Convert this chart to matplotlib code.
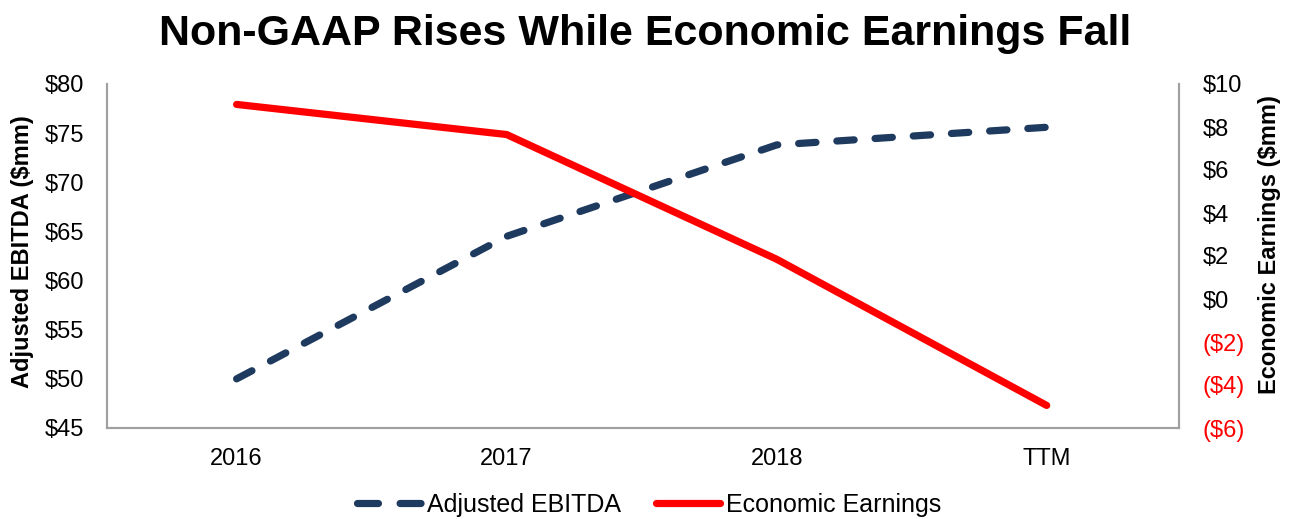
import matplotlib
matplotlib.use("Agg")
import matplotlib.pyplot as plt
from matplotlib.ticker import FuncFormatter
from matplotlib.lines import Line2D

plt.rcParams['font.family'] = ['Liberation Sans', 'DejaVu Sans']

categories = ["2016", "2017", "2018", "TTM"]
adjusted_ebitda = [50.0, 64.5, 73.8, 75.6]
economic_earnings = [9.05, 7.65, 1.85, -4.95]

left_ticks = [45, 50, 55, 60, 65, 70, 75, 80]
right_ticks = [-6, -4, -2, 0, 2, 4, 6, 8, 10]

navy = "#1f3a5f"
red = "#ff0000"

fig = plt.figure(figsize=(12.91, 5.19), dpi=100)
ax = fig.add_axes([107/1291, 1-428/519, (1179-107)/1291, (428-84)/519])
ax2 = ax.twinx()

x = list(range(len(categories)))
l1, = ax.plot(x, adjusted_ebitda, color=navy, lw=5.2, linestyle=(0, (2.4, 2.9)),
              dash_capstyle='round', solid_capstyle='round', label="Adjusted EBITDA", zorder=3)
l2, = ax2.plot(x, economic_earnings, color=red, lw=5.2, solid_capstyle='round',
               label="Economic Earnings", zorder=3)

ax.set_xlim(-0.48, 3.49)
ax.set_ylim(45, 80)
ax2.set_ylim(-6, 10)
ax.set_xticks(x)
ax.set_xticklabels(categories)
ax.set_yticks(left_ticks)
ax2.set_yticks(right_ticks)
ax.yaxis.set_major_formatter(FuncFormatter(lambda v, p: f"${v:.0f}"))
ax2.yaxis.set_major_formatter(FuncFormatter(lambda v, p: f"(${abs(v):.0f})" if v < 0 else f"${v:.0f}"))

for a in (ax, ax2):
    a.tick_params(axis='both', length=0, labelsize=17)
    a.spines['top'].set_visible(False)
    for s in ('left', 'right', 'bottom'):
        a.spines[s].set_color("#a0a0a0")
        a.spines[s].set_linewidth(1.5)
ax.tick_params(axis='y', pad=16.5)
ax.tick_params(axis='x', pad=14.5)
ax2.tick_params(axis='y', pad=17)
for lab, v in zip(ax2.get_yticklabels(), right_ticks):
    if v < 0:
        lab.set_color(red)

ax.set_ylabel("Adjusted EBITDA ($mm)", fontsize=17, fontweight='bold')
ax.yaxis.set_label_coords((34-107)/1072, 0.512)
ax2.set_ylabel("Economic Earnings ($mm)", fontsize=17, fontweight='bold')
ax2.yaxis.set_label_coords((1258-107)/1072, 0.532)

fig.text(0.5, 1-45/519, "Non-GAAP Rises While Economic Earnings Fall", fontsize=31,
         fontweight='bold', ha='center', va='baseline')

h1 = Line2D([], [], color=navy, lw=5.2, linestyle=(0, (2.9, 3.0)),
            dash_capstyle='round', solid_capstyle='round')
h2 = Line2D([], [], color=red, lw=5.2, solid_capstyle='round')
fig.legend([h1, h2], ["Adjusted EBITDA", "Economic Earnings"], loc='center',
           bbox_to_anchor=(649/1291, 1-505/519), ncol=2, frameon=False, fontsize=18,
           handlelength=2.55, columnspacing=1.4, handletextpad=0.25)

fig.savefig("out.png", dpi=100)
